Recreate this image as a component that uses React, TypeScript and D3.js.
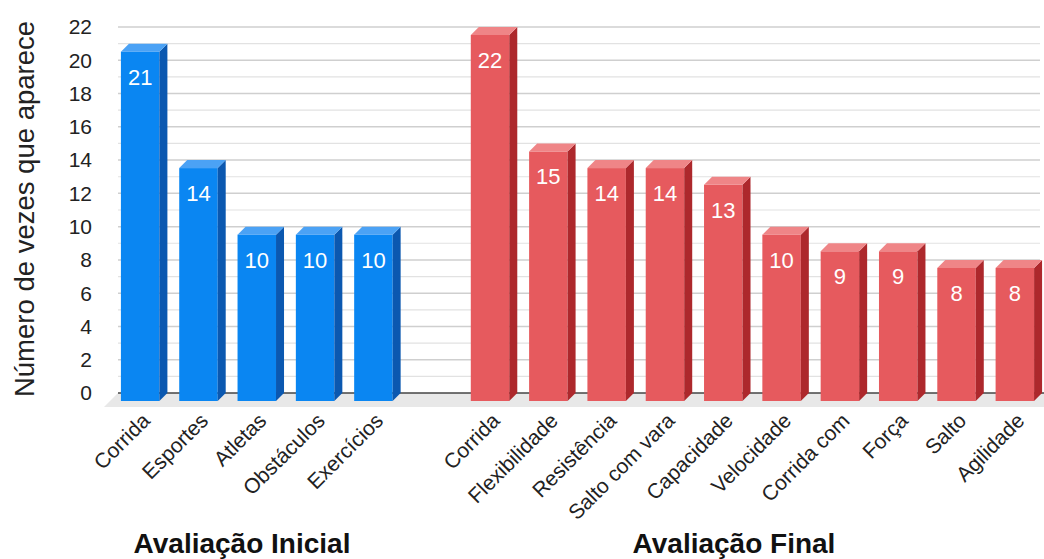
import * as React from 'react';
import {useEffect, useRef} from 'react';
import * as d3 from 'd3';

const inicialCategorias = ['Corrida', 'Esportes', 'Atletas', 'Obstáculos', 'Exercícios'];
const inicialValores = [21, 14, 10, 10, 10];

const finalCategorias = ['Corrida', 'Flexibilidade', 'Resistência', 'Salto com vara', 'Capacidade',
    'Velocidade', 'Corrida com', 'Força', 'Salto', 'Agilidade'];
const finalValores = [22, 15, 14, 14, 13, 10, 9, 9, 8, 8];

const yTicks = [0, 2, 4, 6, 8, 10, 12, 14, 16, 18, 20, 22];

const W = 1044;
const H = 559;
const FONT = '"Liberation Sans", Arial, sans-serif';

interface Bar {
    key: string;
    label: string;
    value: number;
    group: 'inicial' | 'final';
}

const palette = {
    inicial: {front: '#0a86f2', side: '#0b58b0', top: '#4ba2f5'},
    final: {front: '#e65a5e', side: '#ad282c', top: '#ef8587'},
};

export default function App() {
    const ref = useRef<SVGSVGElement>(null);

    useEffect(() => {
        const bars: Bar[] = [
            ...inicialCategorias.map((c, i) => ({key: 'i-' + c, label: c, value: inicialValores[i], group: 'inicial' as const})),
            ...finalCategorias.map((c, i) => ({key: 'f-' + c, label: c, value: finalValores[i], group: 'final' as const})),
        ];
        // one empty slot between the two groups
        const domain = [...bars.slice(0, 5).map(d => d.key), 'gap', ...bars.slice(5).map(d => d.key)];

        const depth = 8;
        const x = d3.scaleBand<string>()
            .domain(domain)
            .range([111, W])
            .paddingInner(0.34)
            .paddingOuter(0.17);
        const y = d3.scaleLinear().domain([0, 22]).range([393, 27]);

        const svg = d3.select(ref.current);
        svg.selectAll('*').remove();

        const wallLeft = 118;

        // floor
        svg.append('polygon')
            .attr('points', `${wallLeft},${y(0)} ${W},${y(0)} ${W},${y(0) + 14} ${wallLeft - 14},${y(0) + 14}`)
            .attr('fill', '#e8e8e8');

        // gridlines
        svg.append('g')
            .selectAll('line')
            .data(d3.range(1, 23))
            .enter()
            .append('line')
            .attr('x1', wallLeft)
            .attr('x2', W - 4)
            .attr('y1', d => y(d))
            .attr('y2', d => y(d))
            .attr('stroke', d => d % 2 === 0 ? '#cfcfcf' : '#e2e2e2')
            .attr('stroke-width', d => d % 2 === 0 ? 1.5 : 1.2);

        svg.append('line')
            .attr('x1', wallLeft).attr('x2', W)
            .attr('y1', y(0)).attr('y2', y(0))
            .attr('stroke', '#444').attr('stroke-width', 1.5);

        // y tick labels
        svg.append('g')
            .selectAll('text')
            .data(yTicks)
            .enter()
            .append('text')
            .attr('x', 92)
            .attr('y', d => y(d))
            .attr('dy', '0.35em')
            .attr('text-anchor', 'end')
            .attr('font-family', FONT)
            .attr('font-size', 21)
            .attr('fill', '#222')
            .text(d => d);

        svg.append('text')
            .attr('transform', `translate(34, 209) rotate(-90)`)
            .attr('text-anchor', 'middle')
            .attr('font-family', FONT)
            .attr('font-size', 27.5)
            .attr('fill', '#222')
            .text('Número de vezes que aparece');

        // 3d bars
        const g = svg.append('g');
        const bw = x.bandwidth();
        bars.forEach(d => {
            const x0 = x(d.key)!;
            const top = y(d.value) + depth;
            const bottom = y(0) + depth;
            const c = palette[d.group];
            g.append('rect')
                .attr('x', x0).attr('y', top)
                .attr('width', bw).attr('height', bottom - top)
                .attr('fill', c.front);
            g.append('polygon')
                .attr('points', `${x0 + bw},${top} ${x0 + bw + depth},${top - depth} ${x0 + bw + depth},${bottom - depth} ${x0 + bw},${bottom}`)
                .attr('fill', c.side);
            g.append('polygon')
                .attr('points', `${x0},${top} ${x0 + depth},${top - depth} ${x0 + bw + depth},${top - depth} ${x0 + bw},${top}`)
                .attr('fill', c.top);
            g.append('text')
                .attr('x', x0 + bw / 2)
                .attr('y', top + 33)
                .attr('text-anchor', 'middle')
                .attr('font-family', FONT)
                .attr('font-size', 22)
                .attr('fill', '#fff')
                .text(d.value);
            g.append('text')
                .attr('transform', `translate(${x0 + bw / 2 + 11}, 422) rotate(-45)`)
                .attr('text-anchor', 'end')
                .attr('font-family', FONT)
                .attr('font-size', 21)
                .attr('fill', '#222')
                .text(d.label);
        });

        // group titles
        const titles = [
            {text: 'Avaliação Inicial', cx: 242},
            {text: 'Avaliação Final', cx: 734},
        ];
        svg.append('g')
            .selectAll('text')
            .data(titles)
            .enter()
            .append('text')
            .attr('x', d => d.cx)
            .attr('y', 553)
            .attr('text-anchor', 'middle')
            .attr('font-family', FONT)
            .attr('font-weight', 'bold')
            .attr('font-size', 28)
            .attr('fill', '#111')
            .text(d => d.text);
    }, []);

    return (
        <svg ref={ref} width={W} height={H}
             style={{position: 'absolute', left: 0, top: 0, background: '#fff'}}/>
    );
}
